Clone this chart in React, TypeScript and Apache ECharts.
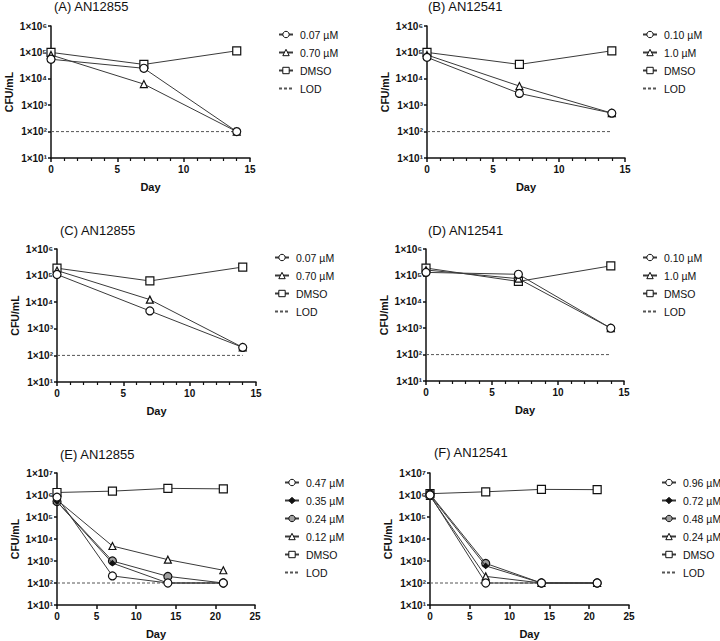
import React, { useEffect, useRef } from "react";
import * as echarts from "echarts";

// ---------- data ----------
const daysShort = [0, 7, 14];
const daysLong = [0, 7, 14, 21];
const lodValue = 100;

const A_c007 = [5.5e4, 2.5e4, 100];
const A_c070 = [8e4, 6.3e3, 100];
const A_dmso = [1e5, 3.5e4, 1.15e5];

const B_c010 = [6.5e4, 2.8e3, 500];
const B_c10 = [8e4, 5.3e3, 500];
const B_dmso = [1e5, 3.5e4, 1.15e5];

const C_c007 = [1.1e5, 4.7e3, 200];
const C_c070 = [1.55e5, 1.25e4, 200];
const C_dmso = [1.9e5, 6.3e4, 2.1e5];

const D_c010 = [1.3e5, 1.1e5, 1000];
const D_c10 = [1.6e5, 7.5e4, 1000];
const D_dmso = [1.9e5, 5.9e4, 2.3e5];

const E_c047 = [8e5, 210, 100, 100];
const E_c035 = [5e5, 800, 100, 100];
const E_c024 = [5e5, 1000, 200, 100];
const E_c012 = [6e5, 4.8e3, 1.15e3, 380];
const E_dmso = [1.3e6, 1.5e6, 2e6, 1.9e6];

const F_c096 = [1e6, 100, 100, 100];
const F_c072 = [1e6, 600, 100, 100];
const F_c048 = [1.1e6, 780, 100, 100];
const F_c024 = [9e5, 200, 100, 100];
const F_dmso = [1.15e6, 1.4e6, 1.8e6, 1.75e6];

const titles = ["(A) AN12855", "(B) AN12541", "(C) AN12855", "(D) AN12541", "(E) AN12855", "(F) AN12541"];

// ---------- styles ----------
const FONT = "'Liberation Sans', Arial, Helvetica, sans-serif";
const LINE = "#3a3a3a";
const marker: Record<string, any> = {
  circle: { symbol: "circle", symbolSize: 8, color: "#fff" },
  triangle: { symbol: "triangle", symbolSize: 7, color: "#fff" },
  square: { symbol: "rect", symbolSize: 8, color: "#fff" },
  grey: { symbol: "circle", symbolSize: 8, color: "#a0a0a0" },
  dot: { symbol: "diamond", symbolSize: 5, color: "#111" },
};

type S = { label: string; values: number[]; mark: string };
type Panel = {
  key: string;
  days: number[];
  xMax: number;
  yMax: number;
  lodEnd: number;
  series: S[];
  grid: { left: number; top: number; width: number; height: number };
  title: { left: number; top: number };
  legend: { left: number; top: number };
  minor: boolean;
};

const panels: Panel[] = [
  {
    key: "A", days: daysShort, xMax: 15, yMax: 1e6, lodEnd: 14, minor: true,
    series: [
      { label: "0.07 µM", values: A_c007, mark: "circle" },
      { label: "0.70 µM", values: A_c070, mark: "triangle" },
      { label: "DMSO", values: A_dmso, mark: "square" },
    ],
    grid: { left: 51, top: 26, width: 199, height: 132 },
    title: { left: 54, top: 0 },
    legend: { left: 278, top: 29 },
  },
  {
    key: "B", days: daysShort, xMax: 15, yMax: 1e6, lodEnd: 14, minor: true,
    series: [
      { label: "0.10 µM", values: B_c010, mark: "circle" },
      { label: "1.0 µM", values: B_c10, mark: "triangle" },
      { label: "DMSO", values: B_dmso, mark: "square" },
    ],
    grid: { left: 427, top: 26, width: 198, height: 132 },
    title: { left: 428, top: 0 },
    legend: { left: 642, top: 29 },
  },
  {
    key: "C", days: daysShort, xMax: 15, yMax: 1e6, lodEnd: 14, minor: true,
    series: [
      { label: "0.07 µM", values: C_c007, mark: "circle" },
      { label: "0.70 µM", values: C_c070, mark: "triangle" },
      { label: "DMSO", values: C_dmso, mark: "square" },
    ],
    grid: { left: 57, top: 249, width: 199, height: 133 },
    title: { left: 60, top: 224 },
    legend: { left: 274, top: 252 },
  },
  {
    key: "D", days: daysShort, xMax: 15, yMax: 1e6, lodEnd: 14, minor: true,
    series: [
      { label: "0.10 µM", values: D_c010, mark: "circle" },
      { label: "1.0 µM", values: D_c10, mark: "triangle" },
      { label: "DMSO", values: D_dmso, mark: "square" },
    ],
    grid: { left: 426, top: 249, width: 198, height: 132 },
    title: { left: 428, top: 224 },
    legend: { left: 642, top: 252 },
  },
  {
    key: "E", days: daysLong, xMax: 25, yMax: 1e7, lodEnd: 21, minor: false,
    series: [
      { label: "0.47 µM", values: E_c047, mark: "circle" },
      { label: "0.35 µM", values: E_c035, mark: "dot" },
      { label: "0.24 µM", values: E_c024, mark: "grey" },
      { label: "0.12 µM", values: E_c012, mark: "triangle" },
      { label: "DMSO", values: E_dmso, mark: "square" },
    ],
    grid: { left: 57, top: 473, width: 198, height: 132 },
    title: { left: 60, top: 448 },
    legend: { left: 284, top: 477 },
  },
  {
    key: "F", days: daysLong, xMax: 25, yMax: 1e7, lodEnd: 21, minor: false,
    series: [
      { label: "0.96 µM", values: F_c096, mark: "circle" },
      { label: "0.72 µM", values: F_c072, mark: "dot" },
      { label: "0.48 µM", values: F_c048, mark: "grey" },
      { label: "0.24 µM", values: F_c024, mark: "triangle" },
      { label: "DMSO", values: F_dmso, mark: "square" },
    ],
    grid: { left: 430, top: 473, width: 199, height: 132 },
    title: { left: 434, top: 446 },
    legend: { left: 661, top: 477 },
  },
];

const SUP: Record<string, string> = { "0": "⁰", "1": "¹", "2": "²", "3": "³", "4": "⁴", "5": "⁵", "6": "⁶", "7": "⁷", "8": "⁸", "9": "⁹" };
const fmtPow = (v: number) => {
  const e = Math.round(Math.log10(v));
  return "1×10" + String(e).split("").map((c) => SUP[c] || c).join("");
};

function buildOption() {
  const grid: any[] = [];
  const xAxis: any[] = [];
  const yAxis: any[] = [];
  const title: any[] = [];
  const legend: any[] = [];
  const series: any[] = [];

  panels.forEach((p, i) => {
    grid.push({ ...p.grid });
    title.push({
      text: titles[i], left: p.title.left, top: p.title.top, padding: 0,
      textStyle: { fontFamily: FONT, fontSize: 13, fontWeight: "normal", color: "#111" },
    });
    xAxis.push({
      type: "value", gridIndex: i, min: 0, max: p.xMax, interval: 5,
      name: "Day", nameLocation: "middle", nameGap: 23,
      nameTextStyle: { fontFamily: FONT, fontSize: 11, fontWeight: "bold", color: "#111" },
      axisLine: { show: true, lineStyle: { color: "#111", width: 1.5 } },
      axisTick: { show: true, length: 4, lineStyle: { color: "#111", width: 1.5 } },
      minorTick: { show: p.minor, splitNumber: 5, length: 3, lineStyle: { color: "#111", width: 1.2 } },
      splitLine: { show: false },
      minorSplitLine: { show: false },
      axisLabel: { fontFamily: FONT, fontSize: 10, fontWeight: "bold", color: "#111", margin: 6 },
    });
    yAxis.push({
      type: "log", logBase: 10, gridIndex: i, min: 10, max: p.yMax,
      splitNumber: p.yMax === 1e7 ? 6 : 5,
      name: "CFU/mL", nameLocation: "middle", nameGap: 37,
      nameTextStyle: { fontFamily: FONT, fontSize: 10.5, fontWeight: "bold", color: "#111" },
      axisLine: { show: true, lineStyle: { color: "#111", width: 1.5 } },
      axisTick: { show: true, length: 3, lineStyle: { color: "#111", width: 1.5 } },
      splitLine: { show: false },
      axisLabel: { fontFamily: FONT, fontSize: 10, fontWeight: "bold", color: "#111", margin: 4, formatter: fmtPow },
    });

    const legendData: any[] = [];
    const n = p.series.length;
    p.series.forEach((s, k) => {
      const m = marker[s.mark];
      const name = p.key + "|" + s.label;
      legendData.push({ name, itemStyle: { borderWidth: 1 } });
      series.push({
        type: "line", name, xAxisIndex: i, yAxisIndex: i,
        data: p.days.map((d, j) => [d, s.values[j]]),
        symbol: m.symbol, symbolSize: m.symbolSize, showAllSymbol: true, clip: false,
        lineStyle: { color: LINE, width: 1 },
        itemStyle: { color: m.color, borderColor: "#111", borderWidth: 1.2 },
        emphasis: { disabled: true },
        z: 3 + (n - k),
      });
    });
    const lodName = p.key + "|LOD";
    legendData.push({ name: lodName, itemStyle: { color: "transparent", borderColor: "transparent", opacity: 0 } });
    series.push({
      type: "line", name: lodName, xAxisIndex: i, yAxisIndex: i,
      data: [[0, lodValue], [p.lodEnd, lodValue]],
      symbol: "none",
      lineStyle: { color: "#555", width: 1, type: [3, 2] },
      itemStyle: { color: "#555" },
      emphasis: { disabled: true },
      z: 1,
    });

    legend.push({
      left: p.legend.left, top: p.legend.top, orient: "vertical",
      data: legendData, formatter: (nm: string) => nm.split("|")[1],
      itemWidth: 14, itemHeight: 8, itemGap: 7, padding: 0,
      selectedMode: false,
      textStyle: { fontFamily: FONT, fontSize: 10.5, color: "#111", padding: [0, 0, 0, 2] },
    });
  });

  return { animation: false, backgroundColor: "#fff", grid, xAxis, yAxis, title, legend, series };
}

export default function App() {
  const ref = useRef<HTMLDivElement>(null);
  useEffect(() => {
    if (!ref.current) return;
    const chart = echarts.init(ref.current, undefined, { renderer: "svg" });
    chart.setOption(buildOption() as any);
    return () => chart.dispose();
  }, []);
  return <div ref={ref} style={{ position: "absolute", left: 0, top: 0, width: 720, height: 641 }} />;
}
